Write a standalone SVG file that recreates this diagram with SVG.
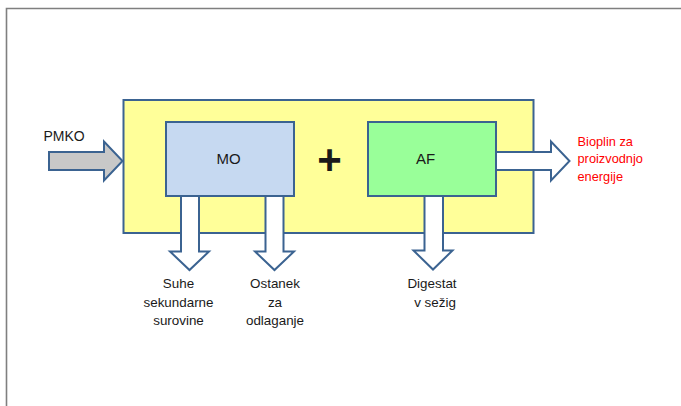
<svg xmlns="http://www.w3.org/2000/svg" width="681" height="406" viewBox="0 0 681 406">
  <style>
    .frame { fill: none; stroke: #7f7f7f; stroke-width: 1.6; }
    .box { stroke: #3b6391; stroke-width: 2; }
    .arrow { stroke: #3b6391; stroke-width: 2; stroke-linejoin: miter; }
    .lbl { font-family: "Liberation Sans", Arial, sans-serif; fill: #1a1a1a; }
    .out { font-family: "Liberation Sans", Arial, sans-serif; font-size: 13.4px; fill: #1a1a1a; text-anchor: middle; }
    .red { font-family: "Liberation Sans", Arial, sans-serif; font-size: 12.8px; fill: #ff0000; }
  </style>
  <rect width="681" height="406" fill="#ffffff"/>
  <!-- page frame running off the right and bottom edges -->
  <path class="frame" d="M6.5,410 V8.5 H690"/>

  <g id="process">
    <rect class="box" x="123.5" y="100" width="410" height="133" fill="#ffff99"/>
  </g>

  <g id="mo">
    <rect class="box" x="166" y="122" width="128" height="74" fill="#c6d9f1"/>
    <text class="lbl" x="228.5" y="163.5" font-size="15" text-anchor="middle">MO</text>
  </g>

  <g id="plus">
    <text class="lbl" x="329.5" y="173.5" font-size="42" font-weight="bold" text-anchor="middle" fill="#000">+</text>
  </g>

  <g id="af">
    <rect class="box" x="368" y="122" width="128" height="74" fill="#99ff99"/>
    <text class="lbl" x="425.5" y="163.5" font-size="15" text-anchor="middle">AF</text>
  </g>

  <g id="connectors">
    <!-- input block arrow -->
    <path class="arrow" fill="#c8c8c8" d="M49,152 H104 V141.5 L122.5,161 L104,180.5 V170 H49 Z"/>
    <!-- biogas output -->
    <path class="arrow" fill="#ffffff" d="M496,152 H551 V141.5 L569.5,161 L551,180.5 V170 H496 Z"/>
    <!-- downward outputs -->
    <path class="arrow" fill="#ffffff" d="M181,196 V251.5 H170 L189.5,270 L209,251.5 H199 V196 Z"/>
    <path class="arrow" fill="#ffffff" d="M265.5,196 V251.5 H255 L274.5,270 L294,251.5 H283.5 V196 Z"/>
    <path class="arrow" fill="#ffffff" d="M424.5,196 V250.5 H413.5 L433,269.5 L452.5,250.5 H443 V196 Z"/>
  </g>

  <g id="label-pmko">
    <text class="lbl" x="43.5" y="141" font-size="14">PMKO</text>
  </g>

  <g id="label-bioplin">
    <text class="red" x="577.5" y="145.5">Bioplin za</text>
    <text class="red" x="577.5" y="163">proizvodnjo</text>
    <text class="red" x="577.5" y="180.5">energije</text>
  </g>

  <g id="label-suhe">
    <text class="out" x="178.5" y="288">Suhe</text>
    <text class="out" x="178.5" y="306.5">sekundarne</text>
    <text class="out" x="178.5" y="325">surovine</text>
  </g>

  <g id="label-ostanek">
    <text class="out" x="275" y="288">Ostanek</text>
    <text class="out" x="275" y="306.5">za</text>
    <text class="out" x="275" y="325">odlaganje</text>
  </g>

  <g id="label-digestat">
    <text class="out" x="432" y="288">Digestat</text>
    <text class="out" x="435" y="306.5">v sežig</text>
  </g>
</svg>
